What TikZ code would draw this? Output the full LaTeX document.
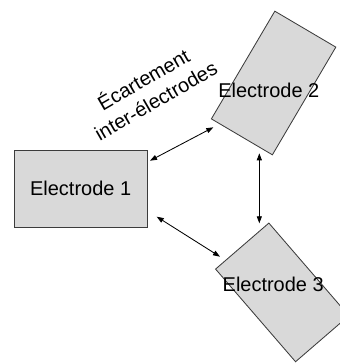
\documentclass[tikz,border=0pt]{standalone}
\usepackage{fontspec}
\setmainfont{Liberation Sans}
\usetikzlibrary{arrows.meta}
\definecolor{elec_gray}{RGB}{217,217,217}
\definecolor{edge_gray}{RGB}{60,60,60}

\begin{document}
\begin{tikzpicture}[line width=0.6pt,>={Triangle[length=5pt,width=3.6pt]}]
    \tikzstyle{elec}=[draw=edge_gray, fill=elec_gray, rectangle, inner sep=0pt]
    \tikzstyle{txt}=[text=black, inner sep=0pt, font=\fontsize{14.2}{17.5}\selectfont]
    \tikzstyle{gap}=[<->, draw=black]
    \useasboundingbox (0,0) rectangle (8.475,-9.075);

    \node[elec,txt, minimum width=3.33cm, minimum height=1.93cm] (e1) at (2.016,-4.716) {Electrode 1};
    \node[elec, minimum width=1.77cm, minimum height=3.125cm, rotate=-30.5] (e2) at (6.84,-2.075) {};
    \node[elec, minimum width=1.76cm, minimum height=3.06cm, rotate=40.8] (e3) at (7.055,-7.31) {};

    \node[txt] (e2txt) at (6.72,-2.26) {Electrode 2};
    \node[txt] (e3txt) at (6.83,-7.11) {Electrode 3};
    \node[txt, align=center, rotate=30] (ecart) at (3.725,-2.225) {Écartement\\inter-électrodes};

%     arrow ends
    \coordinate (g12a) at (3.75,-4.017);
    \coordinate (g12b) at (5.333,-3.183);
    \coordinate (g23a) at (6.483,-3.833);
    \coordinate (g23b) at (6.483,-5.583);
    \coordinate (g13a) at (3.917,-5.417);
    \coordinate (g13b) at (5.5,-6.417);
    \path
     (g12a) edge[gap] (g12b)
     (g23a) edge[gap] (g23b)
     (g13a) edge[gap] (g13b)
     ;
\end{tikzpicture}
\end{document}
